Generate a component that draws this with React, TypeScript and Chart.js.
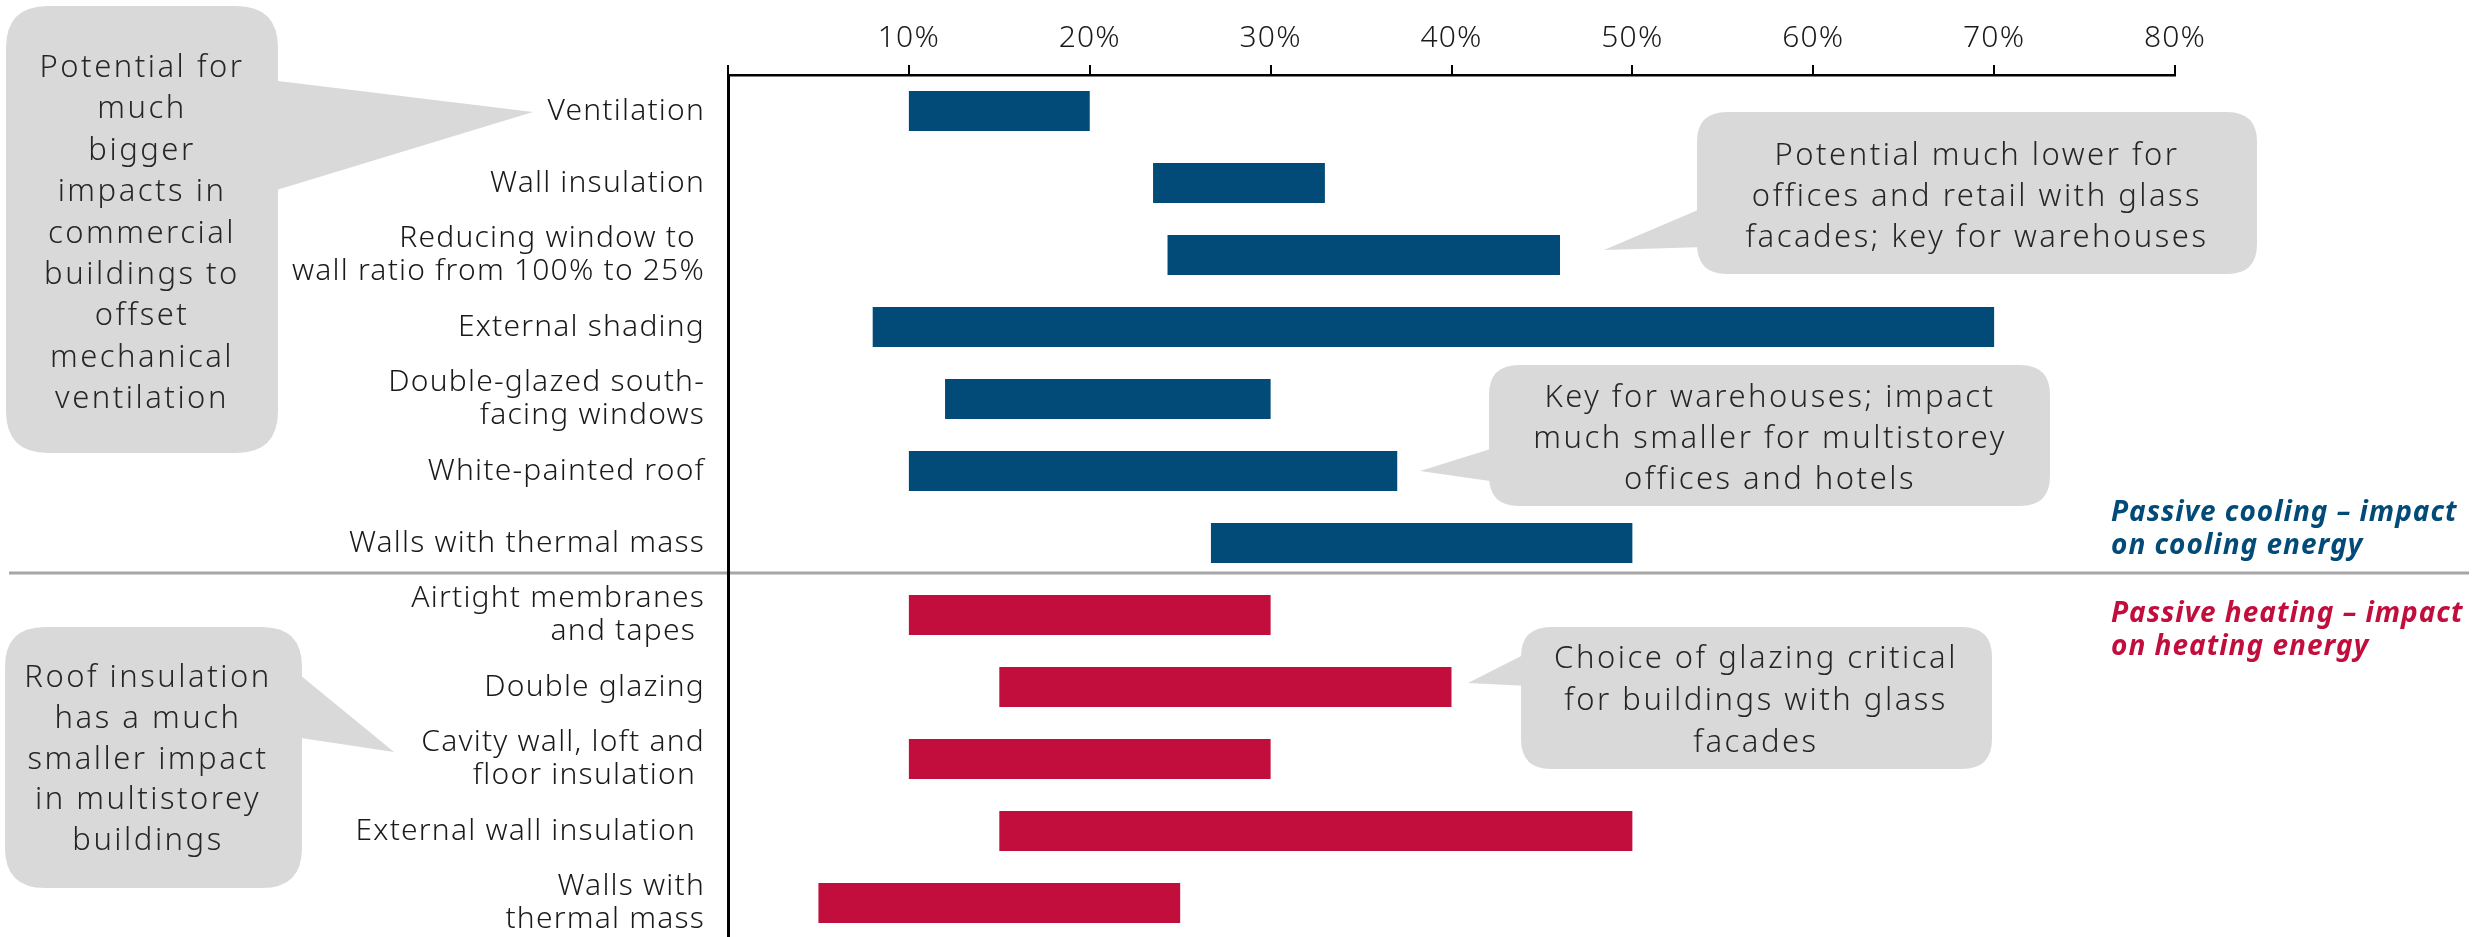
import React, { useEffect, useRef } from "react";
import { Chart, registerables } from "chart.js";

Chart.register(...registerables);

// ---------- data ----------
const coolingLabels: (string | string[])[] = [
  "Ventilation",
  "Wall insulation",
  ["Reducing window to ", "wall ratio from 100% to 25%"],
  "External shading",
  ["Double-glazed south-", "facing windows"],
  "White-painted roof",
  "Walls with thermal mass",
];
const coolingLow = [10, 23.5, 24.3, 8, 12, 10, 26.7];
const coolingHigh = [20, 33, 46, 70, 30, 37, 50];

const heatingLabels: (string | string[])[] = [
  ["Airtight membranes", "and tapes "],
  "Double glazing",
  ["Cavity wall, loft and", "floor insulation "],
  "External wall insulation ",
  ["Walls with", "thermal mass"],
];
const heatingLow = [10, 15, 10, 15, 5];
const heatingHigh = [30, 40, 30, 50, 25];

const xMin = 0;
const xMax = 80;
const xStep = 10;

const coolingLegend = ["Passive cooling \u2013 impact", "on cooling energy"];
const heatingLegend = ["Passive heating \u2013 impact", "on heating energy"];

// ---------- annotation config (callouts) ----------
const bubbles = [
  {
    lines: ["Potential for", "much", "bigger", "impacts in", "commercial", "buildings to", "offset", "mechanical", "ventilation"],
    x: 6, y: 6, w: 272, h: 447, r: 42,
    tail: [[270, 80], [533, 112], [270, 192]],
    cx: 142, firstBase: 77, lh: 41.4,
  },
  {
    lines: ["Potential much lower for", "offices and retail with glass", "facades; key for warehouses"],
    x: 1697, y: 112, w: 560, h: 162, r: 30,
    tail: [[1705, 207], [1604, 250], [1705, 247]],
    cx: 1977, firstBase: 165, lh: 41,
  },
  {
    lines: ["Key for warehouses; impact", "much smaller for multistorey", "offices and hotels"],
    x: 1489, y: 365, w: 561, h: 141, r: 30,
    tail: [[1497, 447], [1420, 471], [1497, 482]],
    cx: 1770, firstBase: 407, lh: 41,
  },
  {
    lines: ["Choice of glazing critical", "for buildings with glass", "facades"],
    x: 1521, y: 627, w: 471, h: 142, r: 30,
    tail: [[1529, 652], [1468, 683], [1529, 686]],
    cx: 1756, firstBase: 668, lh: 42,
  },
  {
    lines: ["Roof insulation", "has a much", "smaller impact", "in multistorey", "buildings"],
    x: 5, y: 627, w: 297, h: 261, r: 40,
    tail: [[294, 670], [394, 752], [294, 737]],
    cx: 148, firstBase: 687, lh: 40.8,
  },
];

const FONT = "'Noto Sans', 'Open Sans', sans-serif";
const BLUE = "#024a77";
const RED = "#c10e3d";
const BUBBLE_FILL = "#d9d9d9";
const TEXT = "#1a1a1a";

function roundRect(ctx: CanvasRenderingContext2D, x: number, y: number, w: number, h: number, r: number) {
  ctx.moveTo(x + r, y);
  ctx.lineTo(x + w - r, y);
  ctx.quadraticCurveTo(x + w, y, x + w, y + r);
  ctx.lineTo(x + w, y + h - r);
  ctx.quadraticCurveTo(x + w, y + h, x + w - r, y + h);
  ctx.lineTo(x + r, y + h);
  ctx.quadraticCurveTo(x, y + h, x, y + h - r);
  ctx.lineTo(x, y + r);
  ctx.quadraticCurveTo(x, y, x + r, y);
  ctx.closePath();
}

const decorPlugin = {
  id: "decor",
  beforeDraw(chart: any) {
    const ctx: any = chart.ctx;
    const ys = chart.scales.y;
    ctx.save();
    // separator between cooling and heating groups
    const n = coolingLabels.length;
    const sepY = (ys.getPixelForValue(n - 1) + ys.getPixelForValue(n)) / 2 - 6;
    ctx.strokeStyle = "#a6a6a6";
    ctx.lineWidth = 3;
    ctx.beginPath();
    ctx.moveTo(9, sepY);
    ctx.lineTo(2469, sepY);
    ctx.stroke();

    // callout bubbles
    for (const b of bubbles) {
      ctx.fillStyle = BUBBLE_FILL;
      ctx.beginPath();
      roundRect(ctx, b.x, b.y, b.w, b.h, b.r);
      ctx.fill();
      ctx.beginPath();
      ctx.moveTo(b.tail[0][0], b.tail[0][1]);
      ctx.lineTo(b.tail[1][0], b.tail[1][1]);
      ctx.lineTo(b.tail[2][0], b.tail[2][1]);
      ctx.closePath();
      ctx.fill();
      ctx.fillStyle = "#262626";
      ctx.font = `300 31px ${FONT}`;
      ctx.letterSpacing = "2.5px";
      ctx.textAlign = "center";
      ctx.textBaseline = "alphabetic";
      b.lines.forEach((t, i) => ctx.fillText(t, b.cx, b.firstBase + i * b.lh));
    }

    // group legends
    ctx.font = `italic bold 28px ${FONT}`;
    ctx.letterSpacing = "1px";
    ctx.textAlign = "left";
    ctx.fillStyle = BLUE;
    coolingLegend.forEach((t, i) => ctx.fillText(t, 2111, sepY - 52 + i * 33));
    ctx.fillStyle = RED;
    heatingLegend.forEach((t, i) => ctx.fillText(t, 2111, sepY + 49 + i * 33));
    ctx.restore();
    // slight tracking for axis text drawn by the library
    ctx.letterSpacing = "1.2px";
  },
};

export default function App() {
  const ref = useRef<HTMLCanvasElement | null>(null);

  useEffect(() => {
    if (!ref.current) return;
    const labels = [...coolingLabels, ...heatingLabels];
    const coolingData = coolingLow
      .map((l, i) => [l, coolingHigh[i]] as any)
      .concat(heatingLabels.map(() => null));
    const heatingData = coolingLabels
      .map(() => null as any)
      .concat(heatingLow.map((l, i) => [l, heatingHigh[i]]));

    const chart = new Chart(ref.current, {
      type: "bar",
      data: {
        labels,
        datasets: [
          {
            label: "Passive cooling",
            data: coolingData,
            backgroundColor: BLUE,
            borderWidth: 0,
            grouped: false,
            barPercentage: 1,
            categoryPercentage: 40 / 72,
          } as any,
          {
            label: "Passive heating",
            data: heatingData,
            backgroundColor: RED,
            borderWidth: 0,
            grouped: false,
            barPercentage: 1,
            categoryPercentage: 40 / 72,
          } as any,
        ],
      },
      options: {
        indexAxis: "y",
        animation: false,
        responsive: false,
        devicePixelRatio: 1,
        layout: { autoPadding: false, padding: { left: 0, right: 313, top: 0, bottom: 0 } },
        plugins: { legend: { display: false }, tooltip: { enabled: false } },
        scales: {
          x: {
            type: "linear",
            position: "top",
            min: xMin,
            max: xMax,
            ticks: {
              stepSize: xStep,
              callback: (v: any) => (Number(v) === 0 ? "" : `${v}%`),
              font: { family: FONT, size: 30, weight: "300" },
              color: TEXT,
              padding: 9,
              maxRotation: 0,
              autoSkip: false,
            },
            grid: {
              drawOnChartArea: false,
              drawTicks: true,
              tickLength: 10,
              color: "#000",
              lineWidth: 2,
            },
            border: { display: true, color: "#000", width: 2.5 },
            afterFit: (s: any) => {
              s.height = 75;
              s.paddingLeft = 0;
              s.paddingRight = 0;
            },
          },
          y: {
            type: "category",
            position: "left",
            ticks: {
              font: { family: FONT, size: 30, lineHeight: 1.12, weight: "300" },
              color: TEXT,
              padding: 23,
              autoSkip: false,
            },
            grid: { display: true, drawOnChartArea: false, drawTicks: false },
            border: { display: true, color: "#000", width: 3 },
            afterFit: (s: any) => {
              s.width = 728;
              s.paddingTop = 0;
              s.paddingBottom = 0;
            },
          },
        },
      } as any,
      plugins: [decorPlugin],
    });
    return () => chart.destroy();
  }, []);

  return (
    <div style={{ position: "fixed", left: 0, top: 0, width: 2488, height: 939, background: "#fff" }}>
      <canvas ref={ref} width={2488} height={939} style={{ display: "block", width: 2488, height: 939 }} />
    </div>
  );
}
